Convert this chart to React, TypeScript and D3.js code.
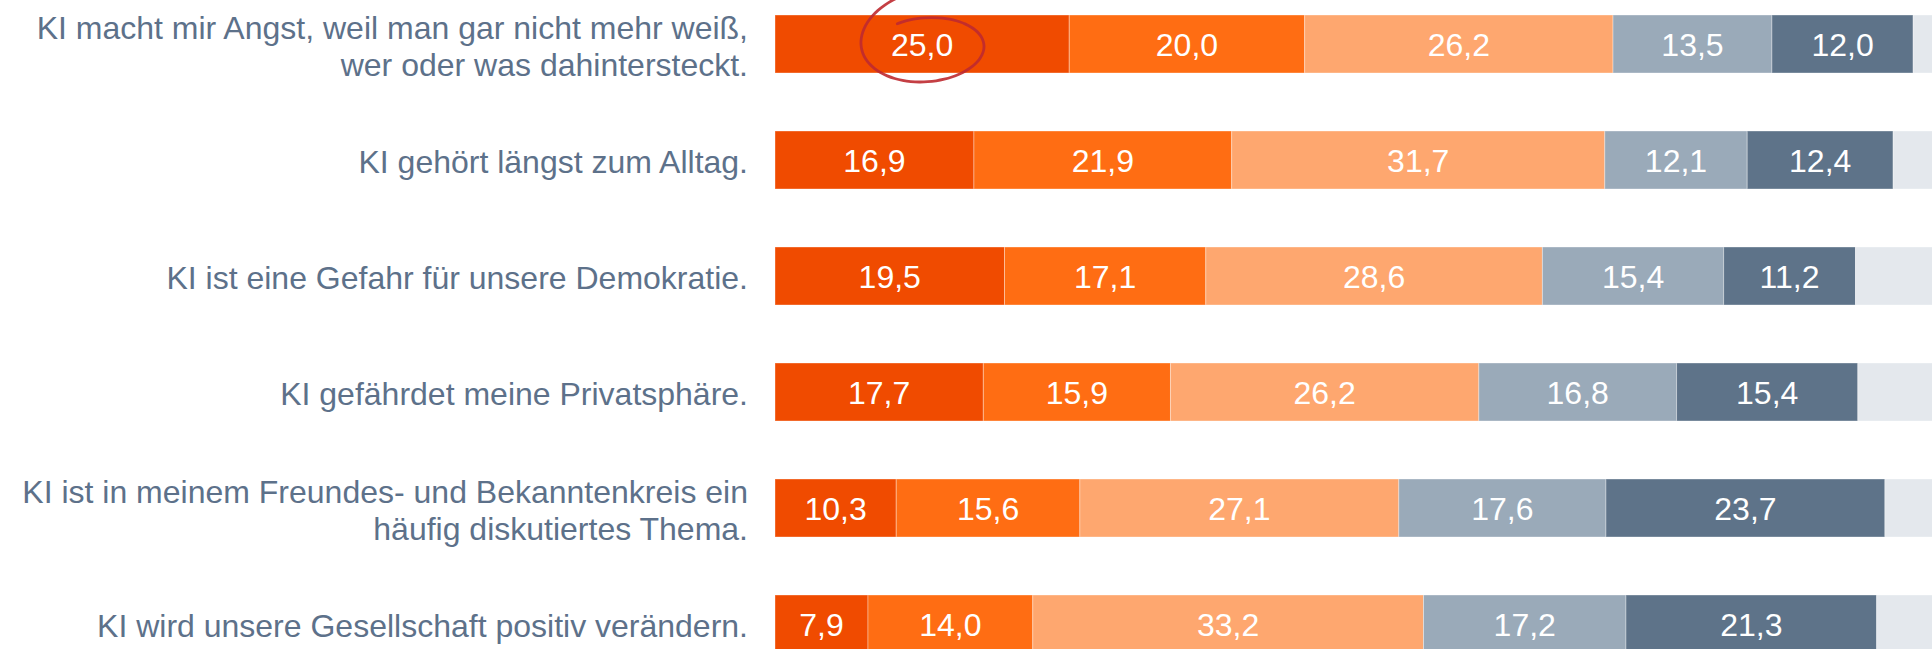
import React, { useEffect } from "react";
import * as d3 from "d3";

// statements (line breaks as in the original)
const categories = [
  "KI macht mir Angst, weil man gar nicht mehr weiß,\nwer oder was dahintersteckt.",
  "KI gehört längst zum Alltag.",
  "KI ist eine Gefahr für unsere Demokratie.",
  "KI gefährdet meine Privatsphäre.",
  "KI ist in meinem Freundes- und Bekanntenkreis ein\nhäufig diskutiertes Thema.",
  "KI wird unsere Gesellschaft positiv verändern.",
];

// answer shares in percent, one array per answer level
const level1 = [25.0, 16.9, 19.5, 17.7, 10.3, 7.9];
const level2 = [20.0, 21.9, 17.1, 15.9, 15.6, 14.0];
const level3 = [26.2, 31.7, 28.6, 26.2, 27.1, 33.2];
const level4 = [13.5, 12.1, 15.4, 16.8, 17.6, 17.2];
const level5 = [12.0, 12.4, 11.2, 15.4, 23.7, 21.3];
const noAnswer = [3.3, 5.0, 8.2, 8.0, 5.7, 6.4];

const seriesKeys = ["l1", "l2", "l3", "l4", "l5", "na"];
const colors = ["#F04B00", "#FF6D13", "#FEA76F", "#9AAAB9", "#5E7389", "#E4E8ED"];
const labelled = [true, true, true, true, true, false];

const W = 1932;
const H = 649;
const FONT = "'Liberation Sans', Arial, sans-serif";

const de = d3.formatLocale({
  decimal: ",",
  thousands: ".",
  grouping: [3],
  currency: ["", " €"],
});
const fmt = de.format(".1f");

export default function App() {
  useEffect(() => {
    document.body.style.margin = "0";
  }, []);

  const rows = categories.map((c, i) => ({
    cat: c,
    l1: level1[i],
    l2: level2[i],
    l3: level3[i],
    l4: level4[i],
    l5: level5[i],
    na: noAnswer[i],
  }));

  const stacked = d3.stack().keys(seriesKeys)(rows as any);

  const x = d3.scaleLinear().domain([0, 100]).range([775, 1952]);
  const y = d3
    .scaleBand()
    .domain(categories)
    .range([-14, 682])
    .paddingInner(0.5)
    .paddingOuter(0.25);
  const bw = y.bandwidth();

  // hand drawn circle around the first value
  const cx = x(level1[0] / 2) + 5;
  const cy = (y(categories[0]) as number) + bw / 2 + 1;
  const t0 = (-125 * Math.PI) / 180;
  const t1 = (272 * Math.PI) / 180;
  const pts: [number, number][] = d3.range(0, 1.0001, 0.02).map((f) => {
    const t = t0 + (t1 - t0) * f;
    const rx = 52 + 14 * f + 6 * f * f;
    const ry = 26 + 16 * f + 14 * f * f * f;
    return [cx + rx * Math.cos(t), cy + ry * Math.sin(t)];
  });
  const circlePath = d3.line().curve(d3.curveBasis)(pts) || "";

  return (
    <div style={{ position: "absolute", left: 0, top: 0 }}>
      <svg width={W} height={H} style={{ display: "block" }}>
        <rect width={W} height={H} fill="#fff" />
        {categories.map((c) => {
          const lines = c.split("\n");
          const mid = (y(c) as number) + bw / 2;
          return (
            <text
              key={c}
              x={748}
              textAnchor="end"
              fontFamily={FONT}
              fontSize={32}
              fill="#5D718A"
            >
              {lines.map((ln, j) => (
                <tspan key={j} x={748} y={mid + 13.3 + (j - (lines.length - 1) / 2) * 37.3}>
                  {ln}
                </tspan>
              ))}
            </text>
          );
        })}
        {stacked.map((s, si) => (
          <g key={s.key}>
            {s.map((d: any, i) => {
              const y0 = y(categories[i]) as number;
              return (
                <rect
                  key={i}
                  x={x(d[0])}
                  y={y0}
                  width={x(d[1]) - x(d[0])}
                  height={bw}
                  fill={colors[si]}
                  stroke="rgba(255,255,255,0.35)"
                  strokeWidth={1}
                />
              );
            })}
          </g>
        ))}
        {stacked.map((s, si) =>
          labelled[si] ? (
            <g key={"t" + s.key}>
              {s.map((d: any, i) => (
                <text
                  key={i}
                  x={x((d[0] + d[1]) / 2)}
                  y={(y(categories[i]) as number) + bw / 2 + 11.5}
                  textAnchor="middle"
                  fontFamily={FONT}
                  fontSize={32}
                  fill="#fff"
                >
                  {fmt(d[1] - d[0])}
                </text>
              ))}
            </g>
          ) : null
        )}
        <path d={circlePath} fill="none" stroke="#BE2A30" strokeWidth={2.8} strokeLinecap="round" opacity={0.9} />
      </svg>
    </div>
  );
}
